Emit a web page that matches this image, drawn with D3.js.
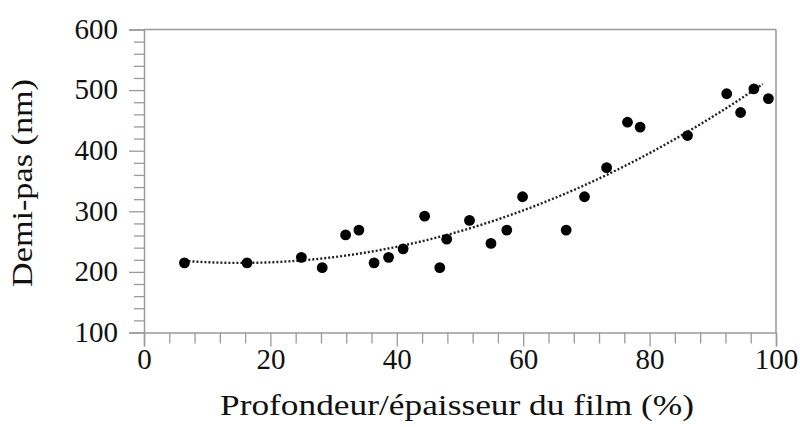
<!DOCTYPE html>
<html><head><meta charset="utf-8">
<script src="https://cdn.jsdelivr.net/npm/d3@7"></script>
<style>body{margin:0;background:#fff}svg{display:block}</style>
</head><body><svg id="c" width="800" height="427"></svg>
<script>
const depth = [6.4,16.3,24.9,28.2,31.9,34.0,36.4,38.7,41.0,44.4,46.8,47.9,51.5,54.9,57.4,59.9,66.8,69.7,73.2,76.5,78.5,86.0,92.2,94.4,96.5,98.8];
const halfPitch = [215,215,224,207,261,269,215,224,238,292,207,254,285,247,269,324,269,324,372,447,439,425,494,463,502,486];
const xTicks = [0,20,40,60,80,100];
const yTicks = [100,200,300,400,500,600];
const xTitle = "Profondeur/épaisseur du film (%)";
const yTitle = "Demi-pas (nm)";

const svg = d3.select("#c");
const L=144, R=776, T=29.5, B=332.5;
const x = d3.scaleLinear().domain([0,100]).range([L,R]);
const y = d3.scaleLinear().domain([100,600]).range([B,T]);
const font = "'Liberation Serif', serif";
const axisCol = "#9a9a9a";

// frame top & right
svg.append("line").attr("x1",L).attr("x2",R).attr("y1",T).attr("y2",T).attr("stroke",axisCol).attr("stroke-width",1.5);
svg.append("line").attr("x1",R).attr("x2",R).attr("y1",T).attr("y2",B).attr("stroke",axisCol).attr("stroke-width",1.5);

// minor ticks
const xMinor = d3.range(0,101,4).filter(v=>v%20!==0);
const yMinor = d3.range(100,601,20).filter(v=>v%100!==0);
const gx = svg.append("g").attr("transform",`translate(0,${B})`);
gx.call(d3.axisBottom(x).tickValues(xMinor).tickSize(11).tickFormat(""));
gx.call(g=>g.selectAll(".tick line").attr("stroke",axisCol).attr("stroke-width",1.3));
const gx2 = svg.append("g").attr("transform",`translate(0,${B})`);
gx2.call(d3.axisBottom(x).tickValues(xTicks).tickSize(14).tickPadding(0).tickFormat(d3.format("d")));
gx2.selectAll(".tick line").attr("stroke",axisCol).attr("stroke-width",1.3);
gx2.selectAll(".tick text").attr("font-family",font).attr("font-size",29).attr("fill","#111").attr("dy",null).attr("y",36);
gx.select(".domain").remove();
gx2.select(".domain").attr("stroke",axisCol).attr("stroke-width",1.5);

const gy = svg.append("g").attr("transform",`translate(${L},0)`);
gy.call(d3.axisLeft(y).tickValues(yMinor).tickSize(10).tickFormat(""));
gy.selectAll(".tick line").attr("stroke",axisCol).attr("stroke-width",1.3);
gy.select(".domain").remove();
const gy2 = svg.append("g").attr("transform",`translate(${L},0)`);
gy2.call(d3.axisLeft(y).tickValues(yTicks).tickSize(15).tickPadding(10).tickFormat(d3.format("d")));
gy2.selectAll(".tick line").attr("stroke",axisCol).attr("stroke-width",1.3);
gy2.selectAll(".tick text").attr("font-family",font).attr("font-size",29).attr("fill","#111").attr("x",-26).attr("dy","0.3em");
gy2.select(".domain").attr("stroke",axisCol).attr("stroke-width",1.5);

// quadratic least-squares trendline
function quadFit(xs, ys){
  let n=xs.length,S=[0,0,0,0,0],Ty=[0,0,0];
  for(let i=0;i<n;i++){let p=1;for(let k=0;k<5;k++){S[k]+=p;if(k<3)Ty[k]+=p*ys[i];p*=xs[i];}}
  const M=[[S[0],S[1],S[2],Ty[0]],[S[1],S[2],S[3],Ty[1]],[S[2],S[3],S[4],Ty[2]]];
  for(let i=0;i<3;i++){for(let j=i+1;j<3;j++){const f=M[j][i]/M[i][i];for(let k=i;k<4;k++)M[j][k]-=f*M[i][k];}}
  const c=[0,0,0];for(let i=2;i>=0;i--){let s=M[i][3];for(let k=i+1;k<3;k++)s-=M[i][k]*c[k];c[i]=s/M[i][i];}
  return c;
}
const coef = quadFit(depth, halfPitch);
const xs = d3.range(d3.min(depth), d3.max(depth)-0.5, 0.5);
const line = d3.line().x(d=>x(d)).y(d=>y(coef[0]+coef[1]*d+coef[2]*d*d));
svg.append("path").datum(xs).attr("d",line).attr("fill","none").attr("stroke","#222")
  .attr("stroke-width",2.4).attr("stroke-dasharray","2,2");

svg.append("g").selectAll("circle").data(depth).join("circle")
  .attr("cx",(d)=>x(d)).attr("cy",(d,i)=>y(halfPitch[i])).attr("r",5.4).attr("fill","#000");

svg.append("text").attr("x",(L+R)/2-3).attr("y",415).attr("text-anchor","middle")
  .attr("font-family",font).attr("font-size",30).attr("fill","#111")
  .attr("textLength",474).attr("lengthAdjust","spacingAndGlyphs").text(xTitle);
svg.append("text").attr("transform",`translate(32,${(T+B)/2+2}) rotate(-90)`).attr("text-anchor","middle")
  .attr("font-family",font).attr("font-size",30).attr("fill","#111")
  .attr("textLength",208).attr("lengthAdjust","spacingAndGlyphs").text(yTitle);
</script></body></html>
